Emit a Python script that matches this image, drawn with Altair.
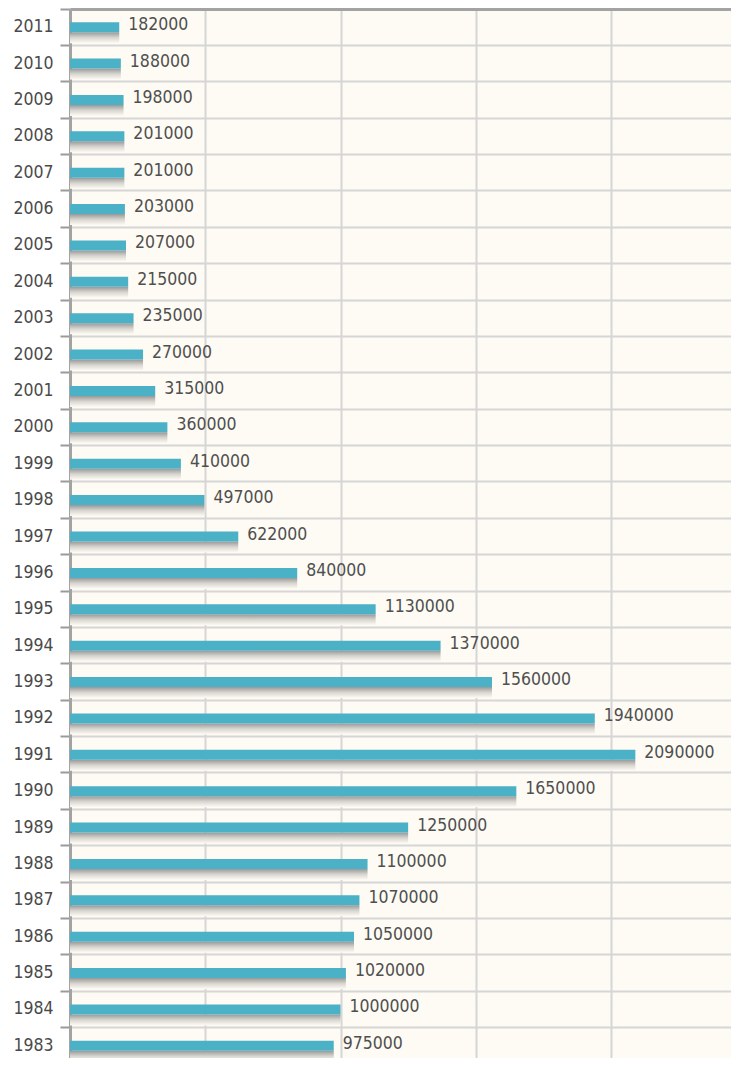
import altair as alt
import pandas as pd

years = [2011, 2010, 2009, 2008, 2007, 2006, 2005, 2004, 2003, 2002, 2001, 2000,
         1999, 1998, 1997, 1996, 1995, 1994, 1993, 1992, 1991, 1990, 1989, 1988,
         1987, 1986, 1985, 1984, 1983]
values = [182000, 188000, 198000, 201000, 201000, 203000, 207000, 215000, 235000,
          270000, 315000, 360000, 410000, 497000, 622000, 840000, 1130000, 1370000,
          1560000, 1940000, 2090000, 1650000, 1250000, 1100000, 1070000, 1050000,
          1020000, 1000000, 975000]
grid_values = [0, 500000, 1000000, 1500000, 2000000]

df = pd.DataFrame({"year": [str(y) for y in years], "value": values})
order = [str(y) for y in years]

FONT = "DejaVu Sans Condensed"
W = 661
XMAX = W / 135.25 * 500000

x_enc = alt.X("value:Q", scale=alt.Scale(domain=[0, XMAX], nice=False, zero=True),
              axis=alt.Axis(orient="top", values=grid_values, labels=False, ticks=False,
                            domain=True, domainColor="#a3a3a3", domainWidth=3,
                            grid=True, gridColor="#d6d6d6", gridWidth=2, title=None))
y_enc = alt.Y("year:N", sort=order,
              scale=alt.Scale(paddingInner=0, paddingOuter=0),
              axis=alt.Axis(title=None, bandPosition=0, labelFont=FONT, labelFontSize=17.5,
                            labelColor="#4a4a4a", labelPadding=7, labelBaseline="middle",
                            ticks=True, tickColor="#9a9a9a", tickSize=10, tickWidth=2,
                            domain=True, domainColor="#a3a3a3", domainWidth=3,
                            grid=True, gridColor="#d6d6d6", gridWidth=2))

base = alt.Chart(df)

shadow = base.mark_bar(
    size=11, yOffset=10.5, x2Offset=-8,
    color=alt.Gradient(gradient="linear",
                       stops=[alt.GradientStop(color="#999999", offset=0),
                              alt.GradientStop(color="#d8d6d0", offset=0.5),
                              alt.GradientStop(color="#fdfbf3", offset=1)],
                       x1=0, x2=0, y1=0, y2=1),
).encode(x=x_enc, y=y_enc)

bars = base.mark_bar(size=10, color="#4bb1c6").encode(x=x_enc, y=y_enc)

labels = base.mark_text(align="left", baseline="middle", dx=9, dy=-2, font=FONT,
                        fontSize=17.5, color="#4f4f4f").encode(
    x="value:Q", y=alt.Y("year:N", sort=order), text="value:Q")

chart = alt.layer(shadow, bars, labels).properties(
    width=W, height=1055,
    autosize=alt.AutoSizeParams(type="none"),
    padding={"left": 62, "top": 1, "right": 0, "bottom": -6},
    background="#ffffff",
).configure_view(fill="#fdfbf3", stroke=None)

chart.save("out.html", embed_options={"renderer": "svg", "actions": False})
